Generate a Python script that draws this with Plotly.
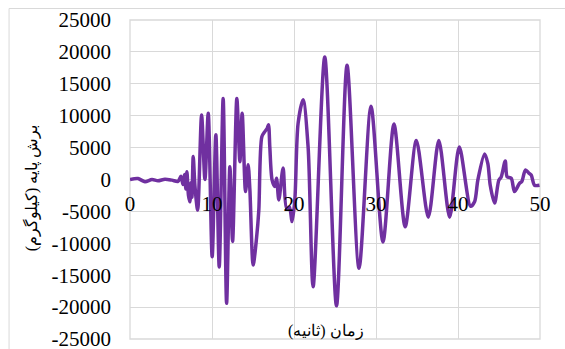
import plotly.graph_objects as go

# time (s) and base shear (kg)
zaman = [0, 0.97, 1.83, 2.68, 3.41, 4.26, 5.12, 5.85, 6.21, 6.46, 6.64, 6.82, 6.94, 7.13,
         7.31, 7.43, 7.55, 7.71, 7.92, 8.25, 8.73, 9.14, 9.54, 10.02, 10.47, 10.88, 11.36,
         11.78, 12.18, 12.51, 13.03, 13.40, 13.68, 14.09, 14.41, 14.62, 15.02, 15.43,
         15.71, 16.08, 16.44, 16.72, 16.89, 17.05, 17.33, 17.66, 17.87, 18.15, 18.67,
         19.09, 19.43, 19.77, 20.10, 20.50, 21.11, 21.72, 22.33, 23.75, 25.18, 26.47,
         27.93, 29.39, 30.85, 32.19, 33.56, 34.92, 36.38, 37.66, 38.98, 40.16, 41.53,
         42.02, 42.42, 43.24, 43.64, 43.93, 44.46, 44.98, 45.27, 45.76, 46.0, 46.49,
         46.89, 47.50, 47.78, 48.23, 48.64, 48.93, 49.33, 49.94]
boresh = [0, 150, -350, 0, -200, 50, -100, -300, 500, -800, 800, -1500, 1200, -2500,
          -3500, -500, -2800, 3600, -1000, -4800, 10100, 0, 10400, -12100, 7000, -13700, 12700,
          -19400, 2000, -9700, 12700, 2800, 10400, -1900, 2300, -1600, -13400, -9200,
          -4800, 6700, 7500, 8000, 8600, 5100, -100, -1100, 200, -3200, 1800,
          -4500, -4300, -6600, -3200, 8800, 12500, 5100, -16800, 19200, -19800, 17900,
          -13900, 11500, -9800, 8700, -7400, 6100, -5900, 6100, -5900, 5100, -4200,
          -3500, -100, 4000, 2500, -900, -3700, -100, 400, 2900, 400, 200,
          -1900, -600, -300, 1500, 1000, 700, -900, -900]

x_ticks = [0, 10, 20, 30, 40, 50]
y_ticks = [-25000, -20000, -15000, -10000, -5000, 0, 5000, 10000, 15000, 20000, 25000]
y_text = [str(v) for v in y_ticks]  # plain hyphen like Excel

grid = '#D9D9D9'
serif = '"Times New Roman", "Liberation Serif", serif'

fig = go.Figure(go.Scatter(x=zaman, y=boresh, mode='lines',
                           line=dict(color='#7030A0', width=3.5, shape='spline', smoothing=0.8)))

fig.update_layout(
    template='none',
    width=565, height=349,
    margin=dict(l=130, r=25, t=20, b=10, autoexpand=False),
    paper_bgcolor='white', plot_bgcolor='white',
    showlegend=False,
    font=dict(family=serif, size=21, color='black'),
    xaxis=dict(range=[0, 50], tickvals=x_ticks, showgrid=True, gridcolor=grid, gridwidth=1.3,
               zeroline=False, showline=False, ticks='', anchor='free', position=0.5,
               ticklabelstandoff=9, automargin=False),
    yaxis=dict(range=[-25000.5, 25000], tickvals=y_ticks, ticktext=y_text, showgrid=True,
               gridcolor=grid, gridwidth=1.3, zeroline=False, showline=False, ticks='',
               ticklabelstandoff=18, automargin=False, ticklabeloverflow='allow'),
    shapes=[
        dict(type='rect', xref='paper', yref='paper', x0=0, x1=1, y0=0, y1=1,
             line=dict(color=grid, width=1.3), layer='below'),
        dict(type='rect', xref='paper', yref='paper', x0=-0.295, x1=1.07, y0=-0.1, y1=1.036,
             line=dict(color=grid, width=1), layer='below'),
    ],
    annotations=[
        dict(text='زمان (ثانیه)', xref='paper', yref='paper', x=0.478, y=0.025,
             showarrow=False, xanchor='center', yanchor='middle',
             font=dict(size=16, family=serif)),
        dict(text='برش پایه (کیلوگرم)', xref='paper', yref='paper', x=-0.241, y=0.473,
             showarrow=False, xanchor='center', yanchor='middle', textangle=-90,
             font=dict(size=16, family=serif)),
    ],
)

fig.write_html('out.html', config={'displayModeBar': False},
               post_script="document.body.style.margin='0';")
